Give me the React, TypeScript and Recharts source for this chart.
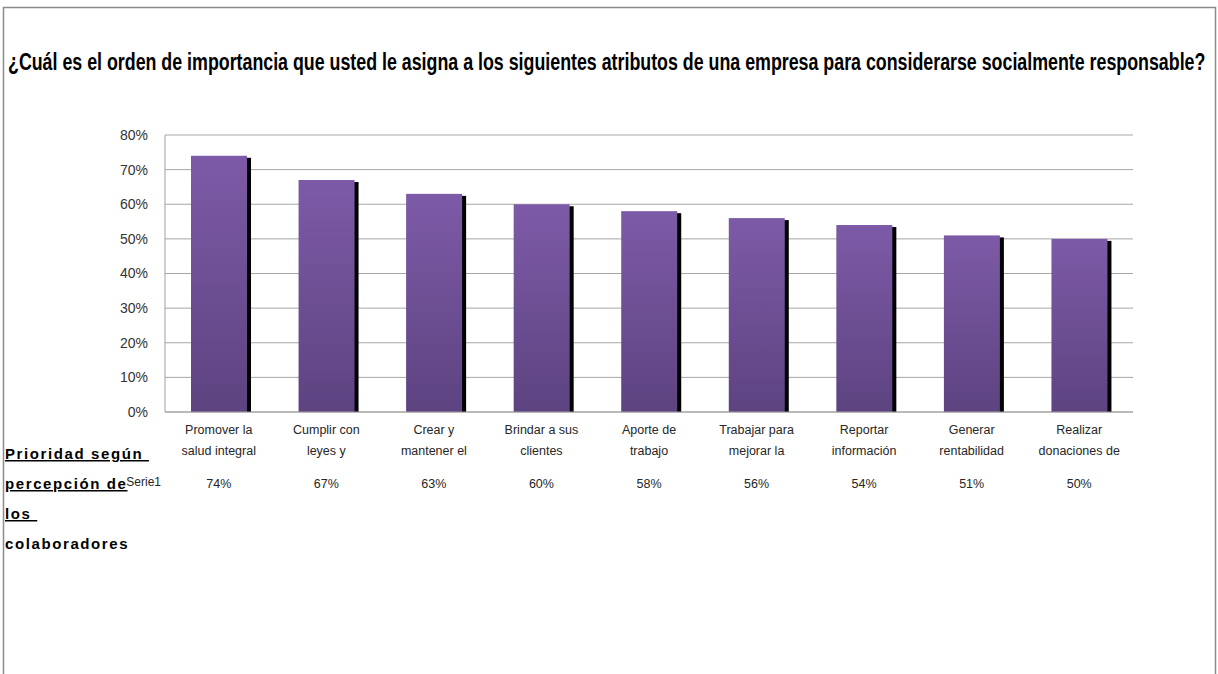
import { BarChart, Bar, XAxis, YAxis, CartesianGrid } from 'recharts';

const chartTitle =
  '¿Cuál es el orden de importancia que usted le asigna a los siguientes atributos de una empresa para considerarse socialmente responsable?';

// category labels as shown (cut to two lines in the original)
const labelLine1 = [
  'Promover la',
  'Cumplir con',
  'Crear y',
  'Brindar a sus',
  'Aporte de',
  'Trabajar para',
  'Reportar',
  'Generar',
  'Realizar',
];
const labelLine2 = [
  'salud integral',
  'leyes y',
  'mantener el',
  'clientes',
  'trabajo',
  'mejorar la',
  'información',
  'rentabilidad',
  'donaciones de',
];
const serie1 = [0.74, 0.67, 0.63, 0.6, 0.58, 0.56, 0.54, 0.51, 0.5];
const yTicks = [0, 0.1, 0.2, 0.3, 0.4, 0.5, 0.6, 0.7, 0.8];
const sideTitle = ['Prioridad según ', 'percepción de', 'los ', 'colaboradores'];
const seriesName = 'Serie1';

const data = labelLine1.map((l, i) => ({
  name: l + ' ' + labelLine2[i],
  value: serie1[i],
  idx: i,
}));

const pct = (v: number) => `${Math.round(v * 100)}%`;
const FONT = '"Liberation Sans", Arial, sans-serif';

// bar with the black drop shadow on its right side
const ShadowBar = (props: any) => {
  const { x, y, width, height } = props;
  if (!height || height <= 0) return null;
  return (
    <g>
      <rect x={x + 4} y={y + 2} width={width} height={height - 2} fill="#000" />
      <rect x={x} y={y} width={width} height={height} fill="url(#barGrad)" />
    </g>
  );
};

const CategoryTick = (props: any) => {
  const { x, y, index } = props;
  return (
    <g fontFamily={FONT} fontSize={12.5} fill="#262626">
      <text x={x} y={y + 20} textAnchor="middle">{labelLine1[index]}</text>
      <text x={x} y={y + 41} textAnchor="middle">{labelLine2[index]}</text>
      <text x={x} y={y + 74} textAnchor="middle">{pct(serie1[index])}</text>
    </g>
  );
};

export default function App() {
  return (
    <div style={{ position: 'absolute', left: 0, top: 0, width: 1218, height: 674, background: '#fff' }}>
      <BarChart
        width={1218}
        height={674}
        data={data}
        margin={{ top: 135, right: 85, bottom: 222, left: 105 }}
      >
        <defs>
          <linearGradient id="barGrad" x1="0" y1="0" x2="0" y2="1">
            <stop offset="0%" stopColor="#7d5aa7" />
            <stop offset="100%" stopColor="#5d4380" />
          </linearGradient>
        </defs>
        <CartesianGrid vertical={false} stroke="#a6a6a6" />
        <XAxis
          dataKey="name"
          height={40}
          tickSize={0}
          tickLine={false}
          axisLine={{ stroke: '#a0a0a0' }}
          interval={0}
          tick={<CategoryTick />}
        />
        <YAxis
          width={60}
          domain={[0, 0.8]}
          ticks={yTicks}
          tickFormatter={pct}
          tickLine={false}
          tickSize={15}
          tickMargin={2}
          axisLine={{ stroke: '#a0a0a0' }}
          tick={{ fontFamily: FONT, fontSize: 14, fill: '#333' }}
        />
        <Bar dataKey="value" barSize={56} shape={<ShadowBar />} isAnimationActive={false} />
      </BarChart>

      <svg
        width={1218}
        height={674}
        style={{ position: 'absolute', left: 0, top: 0, pointerEvents: 'none' }}
      >
        <rect x={3.5} y={7.5} width={1212} height={700} fill="none" stroke="#8c8c8c" strokeWidth={1.5} />
        {/* condensed bold title: laid out at natural width, then squeezed horizontally */}
        <g transform="translate(8,70) scale(0.775,1)">
          <text
            x={0}
            y={0}
            textLength={1545}
            lengthAdjust="spacingAndGlyphs"
            fontFamily={FONT}
            fontWeight="bold"
            fontSize={23}
            fill="#000"
          >
            {chartTitle}
          </text>
        </g>
        <text x={161} y={486} textAnchor="end" fontFamily={FONT} fontSize={12} fill="#262626">
          {seriesName}
        </text>
        {sideTitle.map((t, i) => (
          <text
            key={i}
            x={5}
            y={459 + i * 30}
            fontFamily={FONT}
            fontWeight="bold"
            fontSize={15}
            letterSpacing={1.6}
            fill="#000"
            style={{ whiteSpace: 'pre', textDecoration: i < 3 ? 'underline' : 'none' }}
          >
            {t}
          </text>
        ))}
      </svg>
    </div>
  );
}
